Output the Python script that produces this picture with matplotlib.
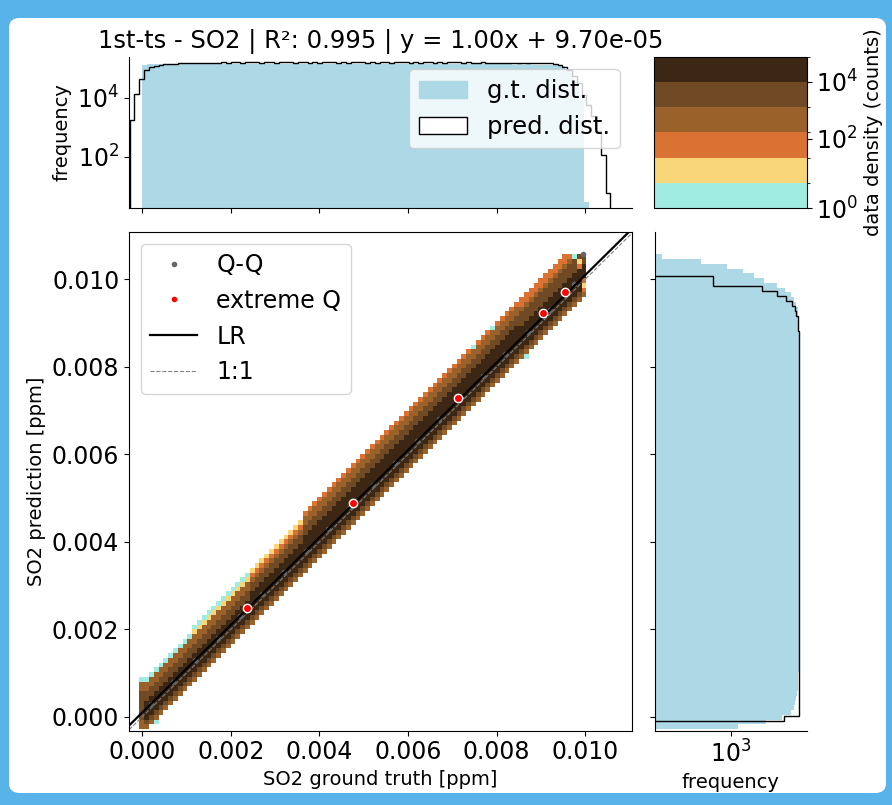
import numpy as np
import matplotlib
matplotlib.use("Agg")
import matplotlib.pyplot as plt
from matplotlib.colors import ListedColormap, BoundaryNorm
from matplotlib.patches import FancyBboxPatch, Patch
from matplotlib.lines import Line2D

# ---- data -------------------------------------------------------------
title = "1st-ts - SO2 | R\u00b2: 0.995 | y = 1.00x + 9.70e-05"
lr_slope = 1.00
lr_intercept = 9.70e-05

# shared bins for predictions / 2d density
edges = np.linspace(-0.000285, 0.01057, 101)
# ground truth bins along x (top) and along y (right)
gt_edges = np.linspace(0.0, 0.01008, 94)
gt_y_edges = np.linspace(-0.0001, 0.01008, 90)

pred_counts = [
    1750, 13300, 43000, 87000, 105000, 118000, 127000, 133000, 138000, 141000,
    144000, 146000, 148000, 149000, 150000, 151000, 152000, 151000, 152000, 153000,
    152000, 153000, 154000, 152000, 153000, 154000, 153000, 152000, 154000, 153000,
    152000, 153000, 154000, 153000, 152000, 153000, 154000, 152000, 153000, 152000,
    153000, 154000, 153000, 152000, 153000, 152000, 153000, 154000, 153000, 152000,
    153000, 152000, 154000, 153000, 152000, 153000, 154000, 153000, 152000, 153000,
    152000, 153000, 154000, 152000, 153000, 152000, 153000, 154000, 153000, 152000,
    153000, 152000, 151000, 153000, 152000, 151000, 152000, 151000, 150000, 151000,
    150000, 149000, 150000, 149000, 148000, 147000, 145000, 142000, 137000, 127000,
    105000, 82000, 53000, 30000, 11800, 5700, 2400, 730, 113, 6,
]

gt_counts = [
    128000, 131000, 132000, 133000, 132000, 131000, 133000, 132000, 131000, 132000,
    133000, 132000, 131000, 133000, 132000, 131000, 132000, 133000, 132000, 131000,
    132000, 133000, 132000, 131000, 132000, 133000, 132000, 131000, 133000, 132000,
    131000, 132000, 133000, 132000, 131000, 132000, 133000, 132000, 131000, 132000,
    133000, 132000, 131000, 133000, 132000, 131000, 132000, 133000, 132000, 131000,
    132000, 133000, 132000, 131000, 132000, 133000, 132000, 131000, 133000, 132000,
    131000, 132000, 133000, 132000, 131000, 132000, 133000, 132000, 131000, 132000,
    133000, 132000, 131000, 132000, 131000, 132000, 131000, 130000, 131000, 130000,
    131000, 130000, 129000, 130000, 129000, 130000, 125000, 115000, 95000, 65000,
    35000, 12000, 3,
]

gt_y_counts = [
    50000, 148000, 150000, 151000, 150000, 152000, 151000, 150000, 152000, 151000,
    150000, 151000, 152000, 150000, 151000, 152000, 151000, 150000, 151000, 152000,
    150000, 151000, 152000, 151000, 150000, 152000, 151000, 150000, 151000, 152000,
    151000, 150000, 152000, 151000, 150000, 151000, 152000, 150000, 151000, 152000,
    151000, 150000, 152000, 151000, 150000, 151000, 152000, 150000, 151000, 152000,
    151000, 150000, 152000, 151000, 150000, 151000, 152000, 150000, 151000, 152000,
    151000, 150000, 152000, 151000, 150000, 151000, 152000, 150000, 151000, 152000,
    151000, 150000, 151000, 150000, 149000, 150000, 149000, 148000, 146000, 145000,
    140000, 123000, 110000, 88000, 57000, 30000, 10000, 265, 265,
]

# density band across the diagonal: counts per offset (row - column),
# one profile per stretch of columns starting at band_starts
band_offsets = [-3, -2, -1, 0, 1, 2, 3, 4, 5, 6, 7, 8, 9]
band_starts = [3, 13, 25, 36, 81]
band_profiles = [
    [300, 3000, 20000, 40000, 30000, 15000, 6000, 2000, 600, 150, 5, 0, 0],
    [300, 3000, 20000, 40000, 35000, 20000, 8000, 3000, 800, 200, 30, 5, 0],
    [300, 3000, 20000, 40000, 40000, 25000, 12000, 5000, 1500, 300, 70, 20, 0],
    [300, 3000, 20000, 40000, 40000, 30000, 20000, 12000, 5000, 2000, 600, 200, 60],
    [200, 2500, 15000, 30000, 30000, 25000, 15000, 8000, 3000, 1000, 300, 100, 50],
]
# column holding the zero readings (rows 0..10)
zero_col_counts = [300, 500, 3000, 5000, 4000, 3000, 2000, 1500, 800, 300, 5]
# sparse cells at the band tips: (column, row, count)
tip_cells = [(5, 1, 4), (92, 99, 3), (94, 93, 20), (94, 92, 60), (94, 94, 80),
             (93, 97, 50), (93, 98, 30), (82, 78, 5), (71, 80, 4), (75, 84, 6)]

qq_gt = [0.0002, 0.0007, 0.0012, 0.0017, 0.0022, 0.0027, 0.0032, 0.0037, 0.0042,
         0.0047, 0.0052, 0.0057, 0.0062, 0.0067, 0.0072, 0.0077, 0.0082, 0.0087,
         0.0092, 0.0095, 0.00975, 0.009955]
qq_pred = [0.0003, 0.0008, 0.0013, 0.0018, 0.0023, 0.0028, 0.0033, 0.0038, 0.0043,
           0.0048, 0.0053, 0.0058, 0.0063, 0.0068, 0.0073, 0.0078, 0.0083, 0.0088,
           0.0093, 0.0097, 0.0099, 0.01057]
ext_gt = [0.00236, 0.00476, 0.00713, 0.00905, 0.00954]
ext_pred = [0.00249, 0.00489, 0.00729, 0.00923, 0.00971]

density_bounds = [1, 10, 40, 120, 1000, 10000, 70000]
density_colors = ["#a1ece1", "#f9d677", "#d97233", "#9a612b", "#704a24", "#3c2715"]

# ---- 2d density grid --------------------------------------------------
grid = np.zeros((100, 100))
for c in range(3, 95):
    seg = sum(1 for s in band_starts if c >= s) - 1
    for d, n in zip(band_offsets, band_profiles[seg]):
        r = c + d
        if 0 <= r < 100 and n > 0:
            grid[r, c] = n
for r, n in enumerate(zero_col_counts):
    grid[r, 2] = n
for c, r, n in tip_cells:
    grid[r, c] = n
grid = np.ma.masked_where(grid <= 0, grid)

# ---- figure -----------------------------------------------------------
W, H = 892, 805
fig = plt.figure(figsize=(W / 100, H / 100), dpi=100)
fig.patch.set_facecolor("#58b4e8")
fig.patches.append(FancyBboxPatch((9 / W, 12 / H), 877 / W, 775 / H,
                                  boxstyle="round,pad=0,rounding_size=0.012",
                                  transform=fig.transFigure, facecolor="white",
                                  edgecolor="none", zorder=-10))


def box(l, t, r, b):
    return [l / W, 1 - b / H, (r - l) / W, (b - t) / H]


ax = fig.add_axes(box(129, 231.7, 631.7, 730.7))
ax_top = fig.add_axes(box(129, 56.7, 631.7, 208.3))
ax_right = fig.add_axes(box(655, 231.7, 806.7, 730.7))
cax = fig.add_axes(box(654.3, 56.7, 806.7, 208.3))

cmap = ListedColormap(density_colors)
norm = BoundaryNorm(density_bounds, cmap.N)
mesh = ax.pcolormesh(edges, edges, grid, cmap=cmap, norm=norm, zorder=1)

xlim = (-0.0003, 0.01105)
ylim = (-0.00032, 0.01109)
xs = np.array(xlim)
ax.plot(xs, xs, "--", color="gray", lw=0.8, zorder=2)
ax.plot(xs, lr_slope * xs + lr_intercept, "-", color="black", lw=1.6, zorder=3)
ax.plot(qq_gt, qq_pred, "o", color="#666666", ms=4, mew=0, zorder=2.5)
ax.plot(ext_gt, ext_pred, "o", color="red", ms=6, mec="white", mew=1, zorder=4)
ax.set_xlim(xlim)
ax.set_ylim(ylim)
ticks = [0.0, 0.002, 0.004, 0.006, 0.008, 0.010]
ax.set_xticks(ticks)
ax.set_yticks(ticks)
ax.set_xticklabels(["%.3f" % t for t in ticks])
ax.set_yticklabels(["%.3f" % t for t in ticks])
ax.tick_params(labelsize=17)
ax.set_xlabel("SO2 ground truth [ppm]", fontsize=14)
ax.set_ylabel("SO2 prediction [ppm]", fontsize=14)

handles = [
    Line2D([], [], ls="none", marker="o", color="#666666", ms=3),
    Line2D([], [], ls="none", marker="o", color="red", ms=3),
    Line2D([], [], color="black", lw=1.6),
    Line2D([], [], color="gray", ls="--", lw=0.8),
]
ax.legend(handles, ["Q-Q", "extreme Q", "LR", "1:1"], loc="upper left", fontsize=17)

# top marginal: distributions along x
ax_top.hist(gt_edges[:-1], bins=gt_edges, weights=gt_counts, color="lightblue",
            label="g.t. dist.")
ax_top.hist(edges[:-1], bins=edges, weights=pred_counts, histtype="step",
            color="black", lw=1.0, label="pred. dist.")
ax_top.set_yscale("log")
ax_top.set_xlim(xlim)
ax_top.set_ylim(1.8, 2.4e5)
ax_top.set_xticks(ticks)
ax_top.set_xticklabels([])
ax_top.set_yticks([1e2, 1e4])
ax_top.yaxis.set_minor_locator(matplotlib.ticker.NullLocator())
ax_top.tick_params(labelsize=17)
ax_top.set_ylabel("frequency", fontsize=14)
ax_top.spines[["top", "right"]].set_visible(False)
ax_top.legend(handles=[Patch(color="lightblue"),
                       Patch(facecolor="white", edgecolor="black")],
              labels=["g.t. dist.", "pred. dist."], loc="upper right", fontsize=17.5)
ax_top.set_title(title, fontsize=17.5)

# right marginal: distributions along y
ax_right.hist(edges[:-1], bins=edges, weights=pred_counts, color="lightblue",
              orientation="horizontal")
ax_right.hist(gt_y_edges[:-1], bins=gt_y_edges, weights=gt_y_counts,
              histtype="step", color="black", lw=1.0, orientation="horizontal")
ax_right.set_xscale("log")
ax_right.set_ylim(ylim)
ax_right.set_xlim(3.7, 2.7e5)
ax_right.set_yticks(ticks)
ax_right.set_yticklabels([])
ax_right.set_xticks([1e3])
ax_right.xaxis.set_minor_locator(matplotlib.ticker.NullLocator())
ax_right.tick_params(labelsize=17)
ax_right.set_xlabel("frequency", fontsize=14)
ax_right.spines[["top", "right"]].set_visible(False)

cb = fig.colorbar(mesh, cax=cax)
cb.set_ticks([1, 100, 10000])
cb.set_ticklabels(["$10^0$", "$10^2$", "$10^4$"])
cb.ax.tick_params(labelsize=17)
cb.set_label("data density (counts)", fontsize=14)

fig.savefig("out.png", dpi=100, facecolor=fig.get_facecolor())
